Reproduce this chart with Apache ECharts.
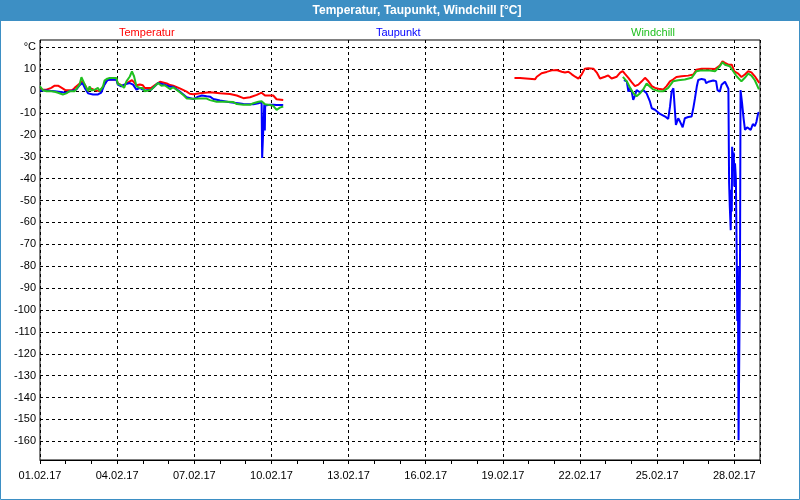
<!DOCTYPE html>
<html><head><meta charset="utf-8">
<script src="https://cdn.jsdelivr.net/npm/echarts@6/dist/echarts.min.js"></script>
<style>html,body{margin:0;padding:0;background:#fff}#c{width:800px;height:500px}</style>
</head><body><div id="c"></div>
<script>
const chartTitle = 'Temperatur, Taupunkt, Windchill [°C]';
const seriesNames = ['Temperatur', 'Taupunkt', 'Windchill'];
const seriesColors = ['#ff0000', '#0000ff', '#20c020'];
const monthSuffix = '.02.17';
const yUnitLabel = '°C';

// Temperatur (red), day-of-February time stamps "DD HH:MM"
const tempFeb01to10 = [['01 00:00',0.7],['01 06:00',0.7],['01 10:30',1.5],['01 13:40',2.5],['01 16:50',2.5],['01 20:20',1.5],['02 00:00',0.4],['02 06:00',0.4],['02 08:20',1.5],['02 12:00',3],['02 14:40',4.5],['02 17:50',3],['02 20:50',0],['02 22:20',1.5],['03 03:10',0.5],['03 07:40',0],['03 10:50',2],['03 14:50',5.2],['03 23:20',5.5],['04 00:40',3.5],['04 03:50',2.7],['04 06:30',2.5],['04 08:40',3.5],['04 11:50',4.5],['04 13:50',5],['04 15:50',4],['04 18:00',2.7],['04 21:10',3],['05 00:00',2.7],['05 01:40',1.5],['05 07:50',1.5],['05 12:00',3],['05 16:00',4.3],['05 22:20',3.5],['06 01:30',2.8],['06 04:20',2.5],['06 10:30',1.3],['06 16:50',-0.2],['06 19:50',-1.2],['06 23:00',-1.4],['07 05:20',-1],['07 14:40',-0.5],['08 00:00',-1],['08 09:20',-1.3],['08 15:40',-2],['08 21:50',-3.2],['09 04:00',-2.8],['09 10:20',-1.7],['09 14:50',-0.7],['09 18:00',-2],['10 01:40',-2],['10 04:50',-3.7],['10 11:00',-4]];
const tempFeb19to28 = [['19 10:50',6.0],['19 16:00',6.0],['19 17:30',5.4],['20 06:00',5.4],['20 07:40',6.6],['20 12:10',8.2],['20 16:50',8.8],['20 21:40',9.5],['21 02:10',9.7],['21 07:00',8.9],['21 10:00',8.5],['21 13:10',8.9],['21 16:20',7.7],['21 19:30',6.6],['21 22:30',5.7],['22 01:40',7.7],['22 04:30',10.3],['22 07:40',10.5],['22 12:30',10.3],['22 15:40',8.5],['22 18:40',5.8],['22 23:20',6.6],['23 02:20',7.2],['23 05:30',5.8],['23 10:20',6.6],['23 13:30',8.5],['23 15:50',9.2],['23 18:10',7.8],['23 21:10',6.1],['24 00:10',4.1],['24 03:20',2.3],['24 06:30',3],['24 09:40',4.5],['24 12:40',6.1],['24 15:50',4.5],['24 19:00',2.3],['24 22:00',1.5],['25 01:10',1.1],['25 05:50',0.8],['25 08:50',2.3],['25 12:00',4.5],['25 14:50',5.3],['25 18:00',6.5],['25 22:50',6.8],['26 05:00',7.1],['26 09:50',7.6],['26 12:40',9.8],['26 17:30',10.3],['26 23:50',10.3],['27 06:00',10.1],['27 10:30',11.7],['27 13:00',13.6],['27 15:20',12.9],['27 18:30',12.1],['27 21:40',12.1],['28 00:00',9.1],['28 03:40',8],['28 06:40',6.5],['28 09:50',7.6],['28 13:00',9.1],['28 16:00',8.6],['28 19:10',6.8],['28 22:20',4.5],['28 23:20',3.8]];

// Taupunkt (blue)
const dewFeb01to10 = [['01 00:00',0.3],['01 06:00',0.3],['01 13:40',0],['01 21:20',-0.5],['02 00:30',-0.7],['02 03:40',0],['02 09:50',0.7],['02 13:00',2.7],['02 15:40',3.7],['02 17:50',1.5],['02 20:50',-1],['03 01:30',-1.5],['03 06:10',-1.5],['03 09:10',-0.7],['03 12:10',3],['03 14:50',5],['03 17:00',5.2],['03 23:20',5.2],['04 00:40',3],['04 03:50',2.2],['04 06:30',3],['04 11:50',3.7],['04 14:50',3],['04 18:00',0.7],['04 21:10',1.5],['05 01:40',0.3],['05 07:50',0.7],['05 14:10',3.7],['05 20:20',3],['06 01:30',2],['06 04:20',2],['06 10:30',-0.2],['06 16:50',-2.8],['06 23:00',-3.6],['07 03:40',-2.5],['07 07:10',-2],['07 11:30',-2.3],['07 14:40',-2.5],['07 17:50',-3.6],['08 00:00',-4.3],['08 09:20',-5.1],['08 18:40',-5.6],['08 21:50',-5.9],['09 07:10',-6],['09 11:50',-5.5],['09 14:50',-5],['09 15:20',-30.5],['09 16:50',-30],['09 17:20',-6],['09 17:50',-18],['09 18:10',-6.5],['09 22:30',-6.2],['10 01:40',-6.2],['10 04:50',-6.3],['10 11:00',-6.3]];
const dewFeb23to28 = [['23 17:00',5.1],['23 19:40',4.5],['23 21:10',-0.2],['23 22:30',1.5],['24 00:10',0],['24 01:40',-4],['24 03:20',-2],['24 04:50',0.5],['24 07:50',-0.5],['24 11:00',0.5],['24 14:10',-1],['24 17:20',-4.8],['24 19:00',-7.8],['24 22:00',-8.5],['25 02:40',-10.4],['25 07:30',-11.6],['25 10:20',-12.7],['25 12:00',-7.1],['25 13:30',-0.2],['25 15:10',1.3],['25 16:30',0.5],['25 17:30',-15.4],['25 19:40',-12.4],['25 21:20',-13.9],['25 23:50',-16.5],['26 01:50',-12.4],['26 05:00',-11.8],['26 08:10',-11.6],['26 09:50',-7.5],['26 11:20',-3.2],['26 13:00',2.1],['26 14:20',5.1],['26 17:30',5.6],['26 20:40',5.2],['26 21:40',3.6],['26 23:50',4.3],['27 04:20',4.9],['27 07:00',4.6],['27 08:20',0.5],['27 10:30',-0.2],['27 12:10',2.9],['27 15:20',4.3],['27 16:50',4],['27 18:30',1.1],['27 19:10',-42],['27 19:50',-53],['27 20:40',-63.5],['27 21:10',-45],['27 21:40',-55],['27 22:00',-25.4],['27 22:50',-30],['27 23:30',-28],['28 00:00',-43.6],['28 00:40',-33],['28 01:30',-40],['28 02:10',-70],['28 02:50',-105],['28 03:20',-80],['28 04:00',-159.5],['28 04:50',-159.5],['28 05:20',-80],['28 05:50',0.5],['28 06:30',0.5],['28 07:10',-5],['28 08:40',-12.4],['28 10:00',-17.7],['28 12:00',-16.5],['28 13:50',-16],['28 15:20',-17.7],['28 17:20',-15],['28 19:10',-16],['28 20:40',-14],['28 22:20',-10],['28 23:20',-9.8]];

// Windchill (green)
const chillFeb01to10 = [['01 00:00',2.2],['01 02:50',0.4],['01 06:00',0],['01 10:30',0],['01 13:40',-0.3],['01 16:50',-0.7],['01 21:20',-1.5],['02 00:30',-1],['02 03:40',0],['02 08:20',0],['02 09:50',0.7],['02 13:00',3],['02 14:40',6.4],['02 16:00',6],['02 17:50',3],['02 20:50',0],['02 22:20',2.2],['02 23:50',0.3],['03 03:10',0.7],['03 06:10',1.5],['03 07:40',0],['03 10:50',2.2],['03 12:10',4.8],['03 14:50',5.7],['03 17:00',6],['03 23:20',6],['04 00:40',3.3],['04 03:50',2.7],['04 06:30',1.5],['04 08:40',4.5],['04 11:50',6.7],['04 13:50',9],['04 15:50',6.7],['04 18:00',2.2],['04 21:10',1.5],['04 23:30',1.5],['05 01:40',0],['05 04:50',0.3],['05 07:50',0.7],['05 11:00',2.2],['05 14:10',3.7],['05 17:20',2.5],['05 20:20',2.7],['06 01:30',0.9],['06 04:20',1.8],['06 10:30',-0.5],['06 14:20',-2],['06 16:50',-3.3],['06 23:00',-3.5],['07 05:20',-3.4],['07 11:30',-3.4],['07 14:40',-4.1],['07 20:50',-4.8],['08 06:10',-4.8],['08 12:30',-5],['08 15:40',-5.9],['08 21:50',-6.2],['09 04:00',-6.2],['09 07:10',-5.5],['09 11:50',-4.8],['09 14:50',-4.6],['09 18:00',-6],['09 22:30',-6.3],['10 01:40',-6.7],['10 04:50',-8.6],['10 07:50',-7.5],['10 11:00',-7]];
const chillFeb23to28 = [['23 16:00',6.5],['23 19:40',4.5],['23 22:50',1.5],['24 01:40',-0.8],['24 04:50',-2.3],['24 07:50',-1.1],['24 11:00',0.8],['24 14:10',3.5],['24 17:20',2],['24 20:20',0.8],['25 01:10',0],['25 05:50',0],['25 10:20',1.5],['25 14:50',4.5],['25 19:40',5],['26 01:50',5.3],['26 08:10',6.1],['26 12:40',9.1],['26 17:30',9.5],['26 23:50',9.5],['27 06:00',9.1],['27 10:30',11.4],['27 13:00',13.2],['27 15:20',12.1],['27 19:50',11.4],['27 23:00',9.1],['28 02:10',6.8],['28 06:40',4.5],['28 09:50',6.1],['28 13:00',8],['28 16:00',7.1],['28 19:10',5],['28 23:00',0.8]];

function toDay(t) {
  const parts = t.split(' ');
  const hm = parts[1].split(':');
  return (+parts[0] - 1) + (+hm[0]) / 24 + (+hm[1]) / 1440;
}
const conv = arr => arr.map(p => [toDay(p[0]), p[1]]);

const FONT = '"Liberation Sans", Arial, sans-serif';
const dash = { color: '#000', width: 1, type: [3, 3] };
const chart = echarts.init(document.getElementById('c'), null, { renderer: 'canvas' });

function lineSeries(name, color, data, z) {
  return {
    name, type: 'line', xAxisIndex: 1, yAxisIndex: 1, data: conv(data),
    showSymbol: false, symbol: 'none', z,
    lineStyle: { color, width: 2 }, itemStyle: { color },
    emphasis: { disabled: true }, animation: false
  };
}

function legendAt(i, left) {
  return {
    data: [seriesNames[i]], left, top: 21, icon: 'none', itemWidth: 0, itemHeight: 14,
    selectedMode: false,
    textStyle: { color: seriesColors[i], fontSize: 11, fontFamily: FONT }
  };
}

chart.setOption({
  animation: false,
  backgroundColor: '#ffffff',
  legend: [legendAt(0, 109), legendAt(1, 366), legendAt(2, 621)],
  grid: [
    { left: 40, right: 40, top: 40, bottom: 40, show: true, borderColor: '#000', borderWidth: 1, backgroundColor: 'transparent', outerBoundsMode: 'none' },
    { left: 40, right: 40, top: 47.4, bottom: 58.7, show: false, outerBoundsMode: 'none' }
  ],
  xAxis: [
    {
      gridIndex: 0, type: 'value', min: 0, max: 28, interval: 3,
      axisLine: { show: true, lineStyle: { color: '#000', width: 1 } },
      axisTick: { show: true, length: 4, lineStyle: { color: '#000' } },
      minorTick: { show: true, splitNumber: 3, length: 4, lineStyle: { color: '#000' } },
      splitLine: { show: true, lineStyle: dash },
      axisLabel: {
        margin: 10, color: '#000', fontSize: 11, fontFamily: FONT,
        showMaxLabel: false,
        formatter: v => (v % 3 === 0 && v < 28) ? String(v + 1).padStart(2, '0') + monthSuffix : ''
      }
    },
    { gridIndex: 1, type: 'value', min: 0, max: 28, show: false, splitLine: { show: false } }
  ],
  yAxis: [
    { gridIndex: 0, type: 'value', min: 0, max: 1, show: false, splitLine: { show: false } },
    {
      gridIndex: 1, type: 'value', min: -160, max: 20, interval: 10,
      axisLine: { show: false }, axisTick: { show: false },
      splitLine: { show: true, lineStyle: dash },
      axisLabel: {
        margin: 4, color: '#000', fontSize: 11, fontFamily: FONT,
        formatter: v => v === 20 ? yUnitLabel : String(v)
      }
    }
  ],
  series: [
    lineSeries(seriesNames[0], seriesColors[0], tempFeb01to10, 2),
    lineSeries(seriesNames[0], seriesColors[0], tempFeb19to28, 2),
    lineSeries(seriesNames[1], seriesColors[1], dewFeb01to10, 3),
    lineSeries(seriesNames[1], seriesColors[1], dewFeb23to28, 3),
    lineSeries(seriesNames[2], seriesColors[2], chillFeb01to10, 4),
    lineSeries(seriesNames[2], seriesColors[2], chillFeb23to28, 4)
  ],
  graphic: [
    { type: 'rect', z: 100, shape: { x: 0, y: 0, width: 800, height: 21 }, style: { fill: '#3d8fc4' } },
    { type: 'rect', z: 100, shape: { x: 0.5, y: 0.5, width: 799, height: 499 }, style: { fill: 'none', stroke: '#3d8fc4', lineWidth: 1 } },
    { type: 'text', z: 101, x: 417, y: 11, style: { text: chartTitle, fill: '#ffffff', font: 'bold 12px ' + FONT, align: 'center', verticalAlign: 'middle' } }
  ]
});
</script>
</body></html>
